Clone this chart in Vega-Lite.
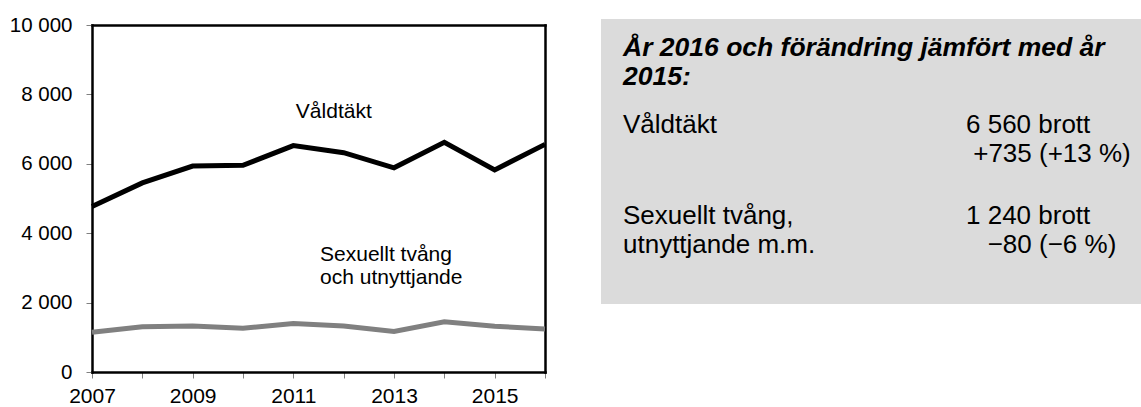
{
  "$schema": "https://vega.github.io/schema/vega-lite/v6.json",
  "padding": {"left": 9, "top": 15, "right": 0, "bottom": 0},
  "autosize": {"type": "pad"},
  "background": "white",
  "config": {
    "font": "Liberation Sans",
    "view": {"stroke": null},
    "concat": {"spacing": 46}
  },
  "datasets": {
    "serie": [
      {"series": "Våldtäkt", "year": 2007, "value": 4770},
      {"series": "Våldtäkt", "year": 2008, "value": 5450},
      {"series": "Våldtäkt", "year": 2009, "value": 5935},
      {"series": "Våldtäkt", "year": 2010, "value": 5955},
      {"series": "Våldtäkt", "year": 2011, "value": 6525},
      {"series": "Våldtäkt", "year": 2012, "value": 6320},
      {"series": "Våldtäkt", "year": 2013, "value": 5885},
      {"series": "Våldtäkt", "year": 2014, "value": 6620},
      {"series": "Våldtäkt", "year": 2015, "value": 5825},
      {"series": "Våldtäkt", "year": 2016, "value": 6560},
      {"series": "Sexuellt tvång och utnyttjande", "year": 2007, "value": 1145},
      {"series": "Sexuellt tvång och utnyttjande", "year": 2008, "value": 1305},
      {"series": "Sexuellt tvång och utnyttjande", "year": 2009, "value": 1325},
      {"series": "Sexuellt tvång och utnyttjande", "year": 2010, "value": 1260},
      {"series": "Sexuellt tvång och utnyttjande", "year": 2011, "value": 1395},
      {"series": "Sexuellt tvång och utnyttjande", "year": 2012, "value": 1325},
      {"series": "Sexuellt tvång och utnyttjande", "year": 2013, "value": 1170},
      {"series": "Sexuellt tvång och utnyttjande", "year": 2014, "value": 1450},
      {"series": "Sexuellt tvång och utnyttjande", "year": 2015, "value": 1320},
      {"series": "Sexuellt tvång och utnyttjande", "year": 2016, "value": 1240}
    ],
    "etiketter": [
      {"text": "Våldtäkt", "year": 2011.05, "value": 7320},
      {"text": "Sexuellt tvång\noch utnyttjande", "year": 2011.53, "value": 3200}
    ],
    "rubrik": [
      {"block": "rubrik", "col": "namn", "text": "År 2016 och förändring jämfört med år\n2015:"}
    ],
    "ruta": [
      {"block": "vald", "col": "namn", "text": "Våldtäkt"},
      {"block": "vald", "col": "antal", "text": "6 560 brott\n\u200b\u00a0+735 (+13 %)"},
      {"block": "sexuellt", "col": "namn", "text": "Sexuellt tvång,\nutnyttjande m.m."},
      {"block": "sexuellt", "col": "antal", "text": "1 240 brott\n\u200b\u00a0\u00a0\u00a0−80 (−6 %)"}
    ]
  },
  "hconcat": [
    {
      "width": 453,
      "height": 353,
      "view": {"stroke": null},
      "resolve": {"axis": {"y": "independent"}},
      "layer": [
        {
          "data": {"name": "serie"},
          "mark": {"type": "line", "strokeWidth": 5},
          "encoding": {
            "x": {
              "field": "year",
              "type": "quantitative",
              "scale": {"domain": [2007, 2016], "nice": false, "zero": false},
              "axis": {
                "values": [2007, 2008, 2009, 2010, 2011, 2012, 2013, 2014, 2015, 2016],
                "labelExpr": "datum.value % 2 == 1 ? format(datum.value, 'd') : ''",
                "tickSize": 6,
                "tickColor": "#808080",
                "tickWidth": 1,
                "domain": true,
                "domainColor": "black",
                "domainWidth": 2.5,
                "domainCap": "square",
                "grid": false,
                "labelFont": "Liberation Sans",
                "labelFontSize": 21,
                "labelColor": "black",
                "labelPadding": 7,
                "labelFlush": false,
                "labelOverlap": false,
                "title": null
              }
            },
            "y": {
              "field": "value",
              "type": "quantitative",
              "scale": {"domain": [0, 10000], "nice": false, "range": [353, 6]},
              "axis": {
                "values": [0, 2000, 4000, 6000, 8000, 10000],
                "labelExpr": "replace(format(datum.value, ','), ',', ' ')",
                "tickSize": 6,
                "tickColor": "#808080",
                "tickWidth": 1,
                "domain": true,
                "domainColor": "black",
                "domainWidth": 2.5,
                "domainCap": "square",
                "grid": false,
                "labelFont": "Liberation Sans",
                "labelFontSize": 20.5,
                "labelColor": "black",
                "labelPadding": 14,
                "labelFlush": false,
                "title": null
              }
            },
            "color": {
              "field": "series",
              "type": "nominal",
              "scale": {"domain": ["Våldtäkt", "Sexuellt tvång och utnyttjande"], "range": ["#000000", "#808080"]},
              "legend": null
            }
          }
        },
        {
          "data": {"name": "etiketter"},
          "mark": {"type": "text", "align": "left", "baseline": "alphabetic", "fontSize": 21, "lineBreak": "\n", "lineHeight": 23, "color": "black"},
          "encoding": {
            "x": {"field": "year", "type": "quantitative"},
            "y": {
              "field": "value",
              "type": "quantitative",
              "axis": {
                "orient": "right",
                "values": [10000],
                "labels": false,
                "ticks": false,
                "domain": true,
                "domainColor": "black",
                "domainWidth": 2.5,
                "domainCap": "square",
                "grid": true,
                "gridColor": "black",
                "gridWidth": 2.5,
                "gridCap": "square",
                "gridOpacity": 1,
                "title": null
              }
            },
            "text": {"field": "text", "type": "nominal"}
          }
        }
      ]
    },
    {
      "width": 540,
      "height": 285,
      "view": {"fill": "#dbdbdb", "stroke": null},
      "layer": [
        {
          "data": {"name": "rubrik"},
          "mark": {"type": "text", "align": "left", "baseline": "alphabetic", "fontSize": 26.5, "fontWeight": "bold", "fontStyle": "italic", "lineBreak": "\n", "lineHeight": 29, "dy": 14, "color": "black"},
          "encoding": {
            "x": {"field": "col", "type": "nominal", "scale": {"type": "point", "domain": ["namn", "antal"], "range": [22, 365], "padding": 0}, "axis": null},
            "y": {"field": "block", "type": "nominal", "scale": {"type": "point", "domain": ["rubrik", "vald", "sexuellt"], "range": [23, 205], "padding": 0}, "axis": null},
            "text": {"field": "text", "type": "nominal"}
          }
        },
        {
          "data": {"name": "ruta"},
          "mark": {"type": "text", "align": "left", "baseline": "alphabetic", "fontSize": 26, "lineBreak": "\n", "lineHeight": 29, "color": "black"},
          "encoding": {
            "x": {"field": "col", "type": "nominal", "axis": null},
            "y": {"field": "block", "type": "nominal", "axis": null},
            "text": {"field": "text", "type": "nominal"}
          }
        }
      ]
    }
  ]
}
